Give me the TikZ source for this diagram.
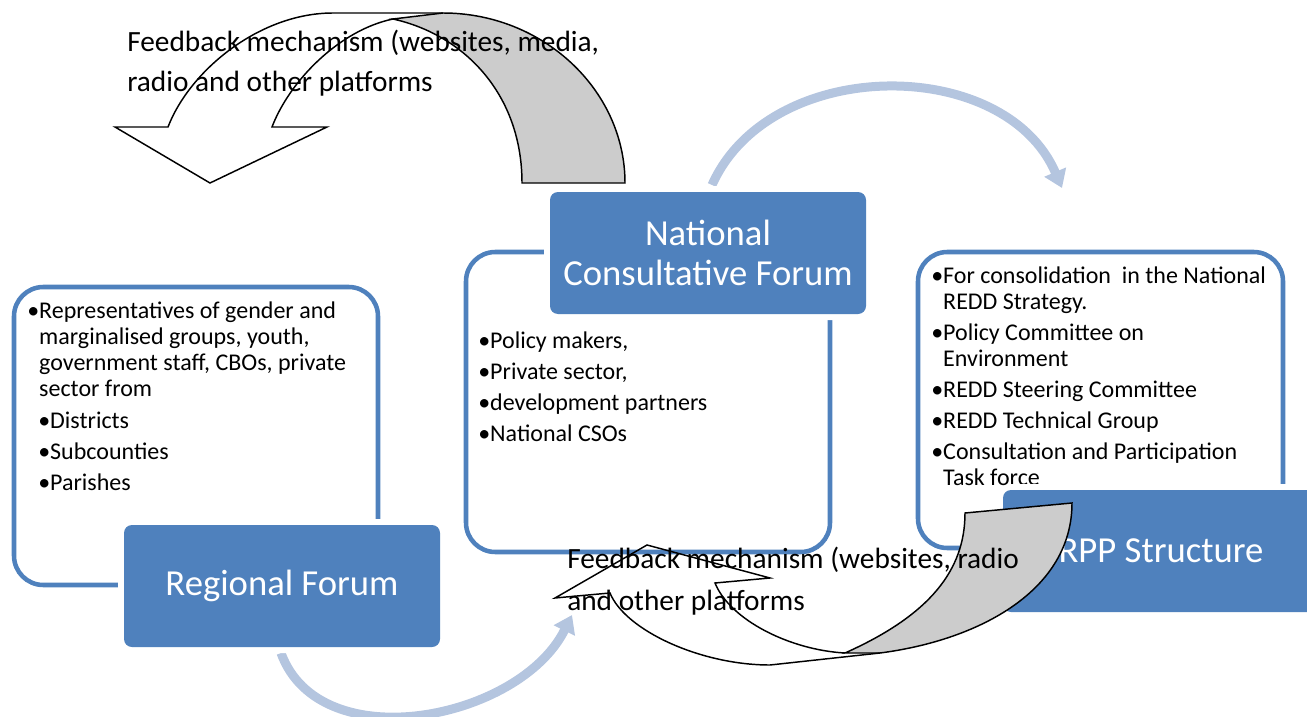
\documentclass[tikz,border=0pt]{standalone}
\usepackage{fontspec}
\setmainfont{Carlito}
\usetikzlibrary{arrows.meta}
\definecolor{boxblue}{RGB}{79,129,189}
\definecolor{arcblue}{RGB}{180,197,223}
\definecolor{fbgrey}{RGB}{204,204,204}
\begin{document}
\begin{tikzpicture}[x=0.75pt,y=-0.75pt,
  outline/.style={draw=boxblue,line width=3.4pt,rounded corners=22pt,fill=white,rectangle,inner sep=0pt},
  titlebox/.style={fill=boxblue,rounded corners=6pt,rectangle,preaction={draw=white,line width=9pt},
    text=white,align=center,font=\fontsize{27.5}{30}\selectfont,minimum width=237pt,minimum height=91.5pt,inner sep=2pt},
  listtxt/.style={anchor=base west,inner sep=0pt,font=\fontsize{18}{19.5}\selectfont},
  fbtxt/.style={anchor=base west,inner sep=0pt,font=\fontsize{22}{25}\selectfont},
  cyclearc/.style={draw=arcblue,line width=6.75pt,-{Triangle[width=17pt,length=13pt]}},
  fbarrow/.style={draw=black,line width=1.1pt,line join=miter},
]
\useasboundingbox (0,0) rectangle (1307,717);

% cycle arcs
\coordinate (ncfout) at (712,185);
\coordinate (rppin) at (1062,188);
\coordinate (regout) at (281,653);
\coordinate (ncfin) at (572,615);
\draw[cyclearc] (ncfout) .. controls (770,55) and (1005,55) .. (rppin);
\draw[cyclearc] (regout) .. controls (320,760) and (520,720) .. (ncfin);

% outline boxes
\node[outline,minimum width=273pt,minimum height=223.5pt] (leftbox) at (196,436) {};
\node[outline,minimum width=273pt,minimum height=225pt] (midbox) at (648,402) {};
\node[outline,minimum width=273.75pt,minimum height=222pt] (rightbox) at (1100.5,400) {};

% left list
\node[listtxt] (l1) at (27,318) {•Representatives of gender and};
\node[listtxt] (l2) at (27,344) {\hphantom{•}marginalised groups, youth,};
\node[listtxt] (l3) at (27,370) {\hphantom{•}government staff, CBOs, private};
\node[listtxt] (l4) at (27,396) {\hphantom{•}sector from};
\node[listtxt] (l5) at (38,428) {•Districts};
\node[listtxt] (l6) at (38,459) {•Subcounties};
\node[listtxt] (l7) at (38,490) {•Parishes};

% middle list
\node[listtxt] (m1) at (478,348) {•Policy makers,};
\node[listtxt] (m2) at (478,379) {•Private sector,};
\node[listtxt] (m3) at (478,410) {•development partners};
\node[listtxt] (m4) at (478,441) {•National CSOs};

% right list
\node[listtxt] (r1) at (931,283) {•For consolidation\ \ in the National};
\node[listtxt] (r2) at (931,309) {\hphantom{•}REDD Strategy.};
\node[listtxt] (r3) at (931,340) {•Policy Committee on};
\node[listtxt] (r4) at (931,366) {\hphantom{•}Environment};
\node[listtxt] (r5) at (931,397) {•REDD Steering Committee};
\node[listtxt] (r6) at (931,428) {•REDD Technical Group};
\node[listtxt] (r7) at (931,459) {•Consultation and Participation};
\node[listtxt] (r8) at (931,485) {\hphantom{•}Task force};

% title boxes
\node[titlebox] (ncf) at (708,253) {National\\Consultative Forum};
\node[titlebox] (reg) at (282,586) {Regional Forum};
\node[titlebox] (rpp) at (1161,551) {RPP Structure};

% top feedback arrow
\draw[fbarrow,fill=fbgrey] (393,19) -- (443,13) .. controls (543,13) and (625,90) .. (625,183)
  -- (522,183) .. controls (522,95) and (465,35) .. (393,19) -- cycle;
\draw[fbarrow] (443,13) -- (333,13) .. controls (260,13) and (190,70) .. (168,127)
  -- (115,127) -- (210,183) -- (327,127) -- (272,127) .. controls (290,80) and (340,30) .. (393,19);

% bottom feedback arrow
\draw[fbarrow,fill=fbgrey] (845,653) .. controls (930,615) and (965,570) .. (965,513)
  -- (1072,503) .. controls (1072,590) and (980,640) .. (880,653) -- cycle;
\draw[fbarrow] (880,653) -- (770,665) .. controls (700,665) and (625,630) .. (610,593)
  -- (555,598) -- (647,545) -- (770,578) -- (715,583) .. controls (730,620) and (790,650) .. (845,653);

% feedback texts
\node[fbtxt] (fb1a) at (127,52) {Feedback mechanism (websites, media,};
\node[fbtxt] (fb1b) at (127,92) {radio and other platforms};
\node[fbtxt] (fb2a) at (567,568) {Feedback mechanism (websites, radio};
\node[fbtxt] (fb2b) at (567,610) {and other platforms};
\end{tikzpicture}
\end{document}
